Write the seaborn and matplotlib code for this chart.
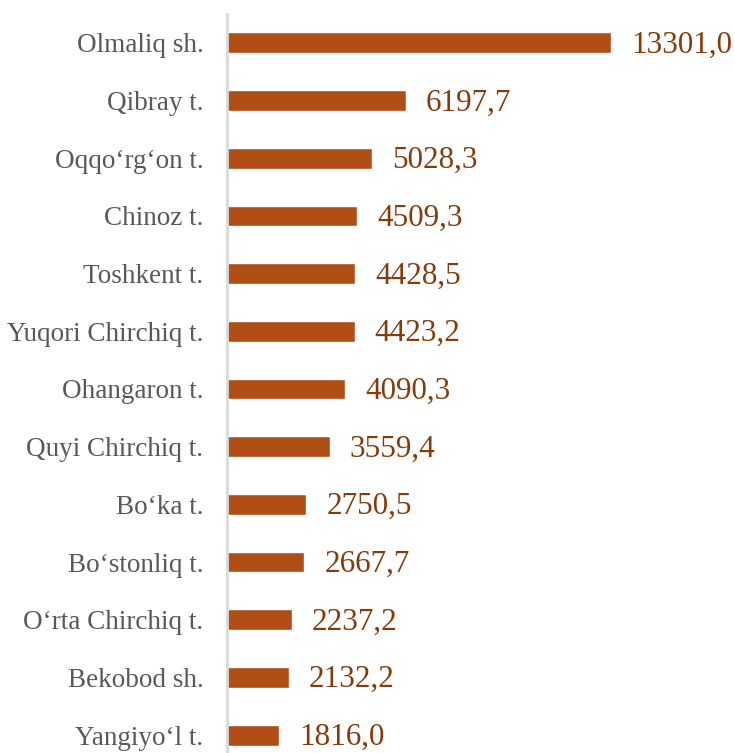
import matplotlib
matplotlib.use("Agg")
import matplotlib.pyplot as plt
import seaborn as sns
import pandas as pd

districts = ["Olmaliq sh.", "Qibray t.", "Oqqo‘rg‘on t.", "Chinoz t.", "Toshkent t.",
             "Yuqori Chirchiq t.", "Ohangaron t.", "Quyi Chirchiq t.", "Bo‘ka t.",
             "Bo‘stonliq t.", "O‘rta Chirchiq t.", "Bekobod sh.", "Yangiyo‘l t."]
values = [13301.0, 6197.7, 5028.3, 4509.3, 4428.5, 4423.2, 4090.3, 3559.4,
          2750.5, 2667.7, 2237.2, 2132.2, 1816.0]

df = pd.DataFrame({"district": districts, "value": values})

sns.set_style("white")
plt.rcParams["font.family"] = ["Liberation Serif", "DejaVu Serif"]

fig = plt.figure(figsize=(7.35, 7.53), dpi=100)
ax = fig.add_axes([227 / 735, -11 / 753, 404 / 735, 750 / 753])

sns.barplot(data=df, x="value", y="district", color="#B04E16", saturation=1,
            width=0.36, ax=ax)

ax.set_xlim(0, 14000)
ax.set_ylim(12.5, -0.5)
ax.set_xlabel("")
ax.set_ylabel("")
ax.set_xticks([])
ax.tick_params(axis="y", length=0, pad=17, labelsize=19.5, labelcolor="#595959")

# value labels to the right of each bar
for i, v in enumerate(values):
    ax.text(v + 700, i + 0.04, f"{v:.1f}".replace(".", ","), va="center", ha="left",
            fontsize=22.4, color="#843C0C")

sns.despine(ax=ax, top=True, right=True, bottom=True, left=False)
ax.spines["left"].set_color("#D9D9D9")
ax.spines["left"].set_linewidth(2)

fig.savefig("out.png", dpi=100)
